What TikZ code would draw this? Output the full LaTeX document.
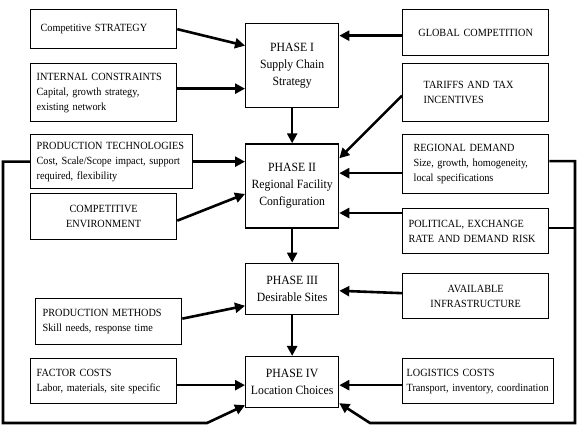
\documentclass[tikz,border=0pt]{standalone}
\usepackage{fontspec}
\setmainfont{Liberation Serif}
\newfontfamily\narrowserif[FakeStretch=0.93]{Liberation Serif}
\usepackage{tikz}
\usetikzlibrary{
    arrows.meta,
    positioning
}
\newcommand{\sidefont}{\narrowserif\fontsize{11}{15}\selectfont}
\newcommand{\phasefont}{\narrowserif\fontsize{12.6}{17}\selectfont}
\tikzset{
    factorbox/.style={
        draw,
        line width=1.3pt,
        inner xsep=6pt,
        text width=134pt,
        align=left,
        font=\sidefont
    }
}
\tikzset{
    phasebox/.style={
        draw,
        line width=1.3pt,
        minimum width=93pt,
        align=center,
        font=\phasefont
    }
}
\tikzset{
    flow/.style={
        draw=black,
        line width=2.6pt,
        ->,
        >={Triangle[length=10pt,width=10pt]}
    }
}
\tikzset{
    feedbackLink/.style={
        draw=black,
        line width=2.6pt
    }
}

\begin{document}
\begin{tikzpicture}[
    x=1pt,
    y=-1pt
]
\useasboundingbox (0,0) rectangle (577,429);

% phases
\node[phasebox, minimum height=84pt, anchor=north west] (phase1) at (245,23)
    {PHASE I\\Supply Chain\\Strategy};
\node[phasebox, minimum height=84pt, below=35pt of phase1] (phase2)
    {PHASE II\\Regional Facility\\Configuration};
\node[phasebox, minimum height=51pt, below=34pt of phase2] (phase3)
    {PHASE III\\Desirable Sites};
\node[phasebox, minimum height=51pt, below=41pt of phase3] (phase4)
    {PHASE IV\\Location Choices};

% left drivers
\node[factorbox, minimum height=39pt, inner xsep=10pt, text width=126pt, anchor=north west] (strat) at (30,9)
    {Competitive STRATEGY};
\node[factorbox, minimum height=58pt, anchor=north west] (intcon) at (30,63)
    {INTERNAL CONSTRAINTS\\Capital, growth strategy,\\existing network};
\node[factorbox, minimum height=54pt, text width=150pt, anchor=north west] (prodtech) at (30,134)
    {PRODUCTION TECHNOLOGIES\\Cost, Scale/Scope impact, support\\required, flexibility};
\node[factorbox, minimum height=46pt, align=center, anchor=north west] (compenv) at (30,193)
    {COMPETITIVE\\ENVIRONMENT};
\node[factorbox, minimum height=46pt, inner xsep=7pt, text width=132pt, anchor=north west] (prodmeth) at (35,298)
    {PRODUCTION METHODS\\Skill needs, response time};
\node[factorbox, minimum height=45pt, anchor=north west] (factor) at (30,358)
    {FACTOR COSTS\\Labor, materials, site specific};

% right drivers
\node[factorbox, minimum height=46pt, align=center, anchor=north west] (global) at (402,9)
    {GLOBAL COMPETITION};
\node[factorbox, minimum height=58pt, inner xsep=21pt, text width=104pt, anchor=north west] (tariffs) at (402,63)
    {TARIFFS AND TAX\\INCENTIVES};
\node[factorbox, minimum height=59pt, inner xsep=11pt, text width=124pt, anchor=north west] (regdem) at (402,134)
    {REGIONAL DEMAND\\Size, growth, homogeneity,\\local specifications};
\node[factorbox, minimum height=45pt, anchor=north west] (polit) at (402,208)
    {POLITICAL, EXCHANGE\\RATE AND DEMAND RISK};
\node[factorbox, minimum height=45pt, align=center, anchor=north west] (infra) at (402,273)
    {AVAILABLE\\INFRASTRUCTURE};
\node[factorbox, minimum height=45pt, inner xsep=4pt, text width=143pt, anchor=north west] (logist) at (402,358)
    {LOGISTICS COSTS\\Transport, inventory, coordination};

% phase to phase
\draw[flow] (phase1.south) -- (phase2.north);
\draw[flow] (phase2.south) -- (phase3.north);
\draw[flow] (phase3.south) -- (phase4.north);

% drivers to phases
\draw[flow] (strat.east) -- ([yshift=20pt]phase1.west);
\draw[flow] ([yshift=4pt]intcon.east) -- ([yshift=4pt]intcon.east -| phase1.west);
\draw[flow] ([yshift=-3pt]global.west) -- ([yshift=-3pt]global.west -| phase1.east);
\draw[flow] ([yshift=-3pt]tariffs.west) -- ([yshift=-15pt]phase2.north east);
\draw[flow] (prodtech.east) -- (prodtech.east -| phase2.west);
\draw[flow] ([yshift=-4pt]compenv.east) -- ([yshift=-8pt]phase2.west);
\draw[flow] ([yshift=-9pt]regdem.west) -- ([yshift=-9pt]regdem.west -| phase2.east);
\draw[flow] ([yshift=-5pt]polit.north west) -- ([yshift=-5pt]polit.north west -| phase2.east);
\draw[flow] ([yshift=3pt]prodmeth.east) -- ([yshift=-17pt]phase3.west);
\draw[flow] ([yshift=3pt]infra.west) -- ([yshift=-2pt]phase3.east);
\draw[flow] ([yshift=-4pt]factor.east) -- ([yshift=-4pt]factor.east -| phase4.west);
\draw[flow] ([yshift=-4pt]logist.west) -- ([yshift=-4pt]logist.west -| phase4.east);

% feedback loops
\coordinate (lcorner) at (3,423);
\coordinate (lbend) at (207,423);
\coordinate (rcorner) at (575,423);
\coordinate (rbend) at (370,423);
\draw[flow] (prodtech.west) -| (lcorner) -- (lbend) -- ([yshift=3pt]phase4.south west);
\draw[flow] ([yshift=3pt]regdem.east) -| (rcorner) -- (rbend) -- ([yshift=5pt]phase4.south east);
\draw[feedbackLink] ([yshift=3pt]polit.east) -- ([yshift=3pt]polit.east -| rcorner);

\end{tikzpicture}
\end{document}
